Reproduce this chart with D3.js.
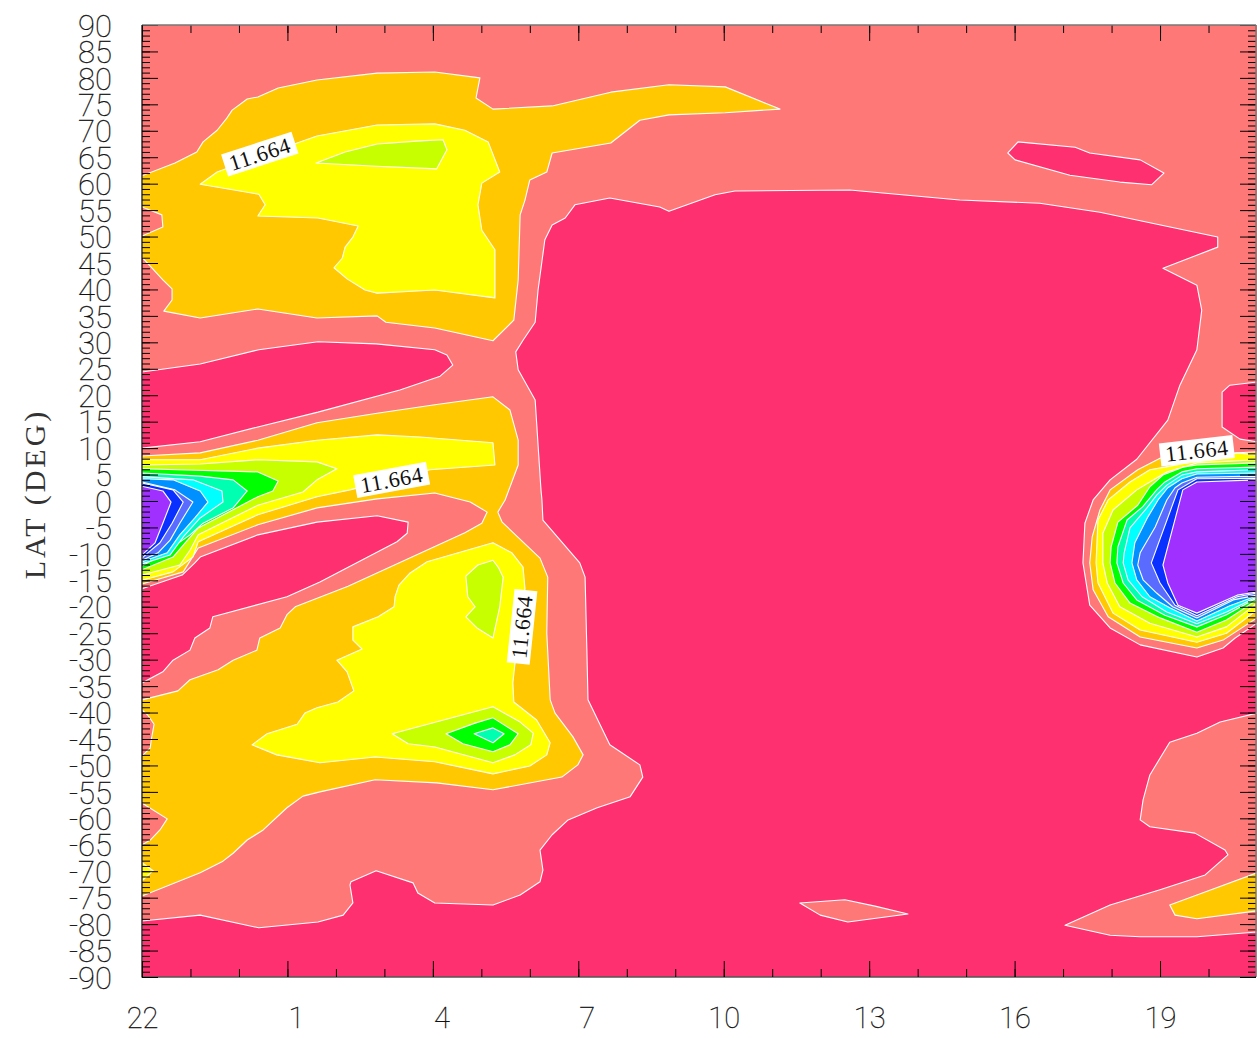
<!DOCTYPE html>
<html><head><meta charset="utf-8">
<script src="https://cdn.jsdelivr.net/npm/d3@7"></script>
<style>html,body{margin:0;padding:0;background:#fff}svg{display:block}</style>
</head><body><svg id="c" width="1257" height="1038"></svg>
<script>
// Outlines are [hours since 22h, latitude in degrees]
const pinkMain=[[8.93,56.0],[9.65,57.3],[10.68,55.6],[10.87,54.8],[11.82,57.9],[12.23,58.6],[14.6,58.8],[16.87,56.9],[18.52,56.3],[19.76,54.6],[22.19,49.9],[22.19,48.0],[21.06,44.0],[21.76,40.8],[21.86,36.1],[21.76,28.6],[21.41,21.9],[21.16,15.3],[20.52,7.9],[19.97,4.0],[19.62,0.2],[19.45,-4.2],[19.41,-11.7],[19.55,-19.7],[19.97,-24.0],[20.59,-27.2],[21.76,-29.5],[22.3,-27.8],[22.55,-25.9],[23,-23.1],[23,-40.1],[22.24,-41.8],[21.76,-43.9],[21.2,-45.6],[20.79,-51.8],[20.65,-56.5],[20.59,-60.3],[20.79,-61.6],[21.72,-62.8],[22.34,-66.0],[22.4,-66.9],[21.93,-70.7],[21.0,-73.5],[19.97,-76.4],[19.04,-80.2],[19.97,-82.1],[20.59,-82.4],[21.76,-82.4],[23,-81.5],[23,-90],[0,-90],[0,-79.4],[1.2,-78.3],[2.41,-80.7],[3.63,-79.6],[4.15,-78.3],[4.35,-76.0],[4.29,-72.6],[4.31,-72.0],[4.83,-69.9],[5.59,-72.2],[5.69,-74.1],[6.04,-76.0],[7.24,-76.4],[7.8,-74.5],[8.21,-72.0],[8.27,-69.8],[8.21,-66.0],[8.46,-63.1],[8.79,-60.3],[9.39,-58.0],[10.07,-55.9],[10.33,-52.2],[10.27,-49.9],[9.65,-46.1],[9.2,-37.6],[9.18,-29.5],[9.14,-14.4],[9.03,-11.7],[8.27,-3.6],[8.25,0.2],[8.23,2.1],[8.11,19.1],[7.76,24.8],[7.71,28.2],[7.86,30.4],[8.11,33.8],[8.17,39.9],[8.31,49.4],[8.46,52.2],[8.73,53.5]];
const pinkIsland=[[17.86,65.8],[18.07,67.9],[19.25,66.9],[19.55,65.8],[20.59,64.5],[21.08,62.0],[20.83,59.8],[20.17,60.3],[19.14,61.6],[18.01,64.5]];
const pinkRight=[[22.28,20.6],[22.44,21.9],[23,22.5],[23,11.2],[22.65,11.7],[22.28,14.0],[22.28,17.2]];
const pinkNorthBand=[[0,24.4],[1.2,25.9],[2.41,28.6],[3.63,30.1],[4.83,29.7],[6.04,28.6],[6.29,27.6],[6.41,25.7],[6.15,23.6],[5.32,21.0],[3.63,16.8],[2.39,14.0],[1.2,11.2],[0,10.0]];
const pinkSouthBand=[[0,-16.6],[0.83,-14.0],[1.09,-11.7],[1.2,-10.6],[2.39,-6.4],[3.61,-4.0],[4.85,-2.8],[5.49,-4.0],[5.47,-6.1],[5.26,-7.7],[3.67,-15.3],[2.99,-18.1],[1.46,-21.9],[1.4,-24.0],[1.09,-25.9],[0.99,-28.2],[0.64,-30.1],[0.43,-32.3],[0,-34.4]];
const salmonIsland=[[13.57,-76.0],[14.5,-75.4],[15.12,-76.6],[15.8,-78.1],[14.56,-79.6],[13.99,-78.3]];

const orangeNorth=[[0,61.5],[0.68,63.9],[1.13,66.0],[1.26,67.9],[1.55,70.1],[1.75,72.4],[1.86,73.9],[2.17,76.0],[2.39,76.4],[2.81,78.1],[3.61,79.6],[4.85,80.9],[6.04,81.1],[6.97,80.0],[6.89,76.2],[7.24,74.1],[8.46,74.7],[9.67,77.3],[10.87,78.7],[12.03,78.3],[13.16,74.1],[12.03,73.4],[10.87,73.0],[10.27,72.0],[9.67,67.7],[8.46,65.8],[8.35,62.2],[8.0,60.7],[7.9,56.9],[7.8,54.1],[7.76,41.8],[7.67,34.2],[7.24,30.3],[6.04,32.7],[5.03,33.8],[4.85,35.0],[3.61,34.6],[2.39,36.3],[1.2,34.6],[0.45,35.9],[0.62,38.0],[0.62,40.1],[0.43,41.8],[0,46.1],[0,50.1],[0.43,51.8],[0.41,54.1],[0,55.6]];
const orangeSouth=[[0,8.5],[1.2,9.1],[2.39,11.5],[3.61,14.8],[4.85,16.6],[6.04,18.2],[7.24,19.7],[7.59,17.2],[7.76,11.5],[7.76,6.8],[7.49,0.2],[7.34,-2.1],[7.43,-4.0],[8.21,-10.8],[8.37,-14.4],[8.35,-25.0],[8.42,-37.6],[8.52,-40.1],[8.89,-44.6],[9.1,-48.0],[8.99,-49.9],[8.66,-52.2],[7.24,-54.6],[6.08,-53.3],[4.81,-52.7],[3.67,-55.0],[3.32,-55.8],[2.99,-58.0],[2.5,-62.2],[2.17,-64.1],[1.88,-66.6],[1.67,-68.1],[1.2,-70.3],[0,-74.7],[0,-65.0],[0.17,-64.1],[0.37,-62.2],[0.52,-60.1],[0,-57.1],[0,-48.2],[0.17,-46.7],[0.19,-45.2],[0.25,-42.2],[0.12,-40.5],[0,-39.5],[0,-37.6],[0.74,-35.9],[0.99,-33.8],[1.57,-31.9],[1.88,-30.1],[2.37,-28.2],[2.43,-25.9],[2.85,-24.0],[2.99,-21.5],[3.16,-20.0],[4.25,-16.1],[6.66,-6.0],[7.01,-4.2],[7.12,-2.1],[6.77,-0.2],[6.04,1.5],[4.85,0.4],[3.61,-1.3],[2.39,-4.5],[1.16,-8.9],[0.85,-13.4],[0,-15.7]];
const orangeBlob=[[23,9.3],[21.76,8.7],[21.0,8.1],[20.54,5.9],[19.97,2.1],[19.76,-1.7],[19.6,-6.8],[19.55,-11.7],[19.62,-16.8],[19.93,-21.9],[20.59,-25.7],[21.76,-27.8],[22.3,-26.3],[23,-22.1]];
const orangeCorner=[[21.2,-76.4],[21.31,-78.3],[21.76,-79.0],[23,-77.5],[23,-70.3],[21.76,-74.5]];

const yellowNorth=[[1.2,59.9],[1.55,62.2],[3.2,67.7],[3.61,69.0],[4.85,71.1],[6.04,71.3],[6.66,70.1],[7.14,67.9],[7.38,62.2],[7.01,60.1],[6.93,56.0],[7.01,51.2],[7.28,47.5],[7.28,38.4],[6.04,39.9],[4.85,39.3],[4.6,39.9],[4.23,42.0],[3.96,44.1],[4.13,45.9],[4.19,48.0],[4.35,49.9],[4.46,52.0],[3.63,53.5],[2.39,53.9],[2.54,56.0],[2.41,58.0]];
const yellowEquator=[[0,7.8],[1.2,7.8],[2.39,10.0],[3.61,11.5],[4.85,12.5],[5.73,12.1],[7.24,11.0],[7.28,6.8],[5.94,5.9],[4.29,2.1],[3.61,0.8],[2.39,-2.6],[1.16,-7.7],[1.05,-10.6],[0.64,-13.4],[0,-15.0]];
const yellowSouth=[[7.24,-7.9],[7.63,-9.8],[7.86,-12.5],[7.9,-16.6],[7.69,-31.0],[7.65,-34.4],[7.67,-38.0],[8.14,-41.4],[8.42,-45.7],[8.35,-48.0],[8.0,-50.1],[7.24,-51.6],[6.04,-49.3],[4.81,-48.4],[3.67,-49.5],[2.78,-48.0],[2.27,-46.1],[2.58,-44.0],[3.2,-42.2],[3.36,-40.1],[3.61,-39.1],[4.04,-38.0],[4.37,-35.9],[4.23,-32.3],[4.02,-30.1],[4.54,-28.0],[4.35,-26.3],[4.35,-23.8],[4.87,-21.9],[5.2,-20.0],[5.22,-18.1],[5.3,-15.9],[5.53,-13.6],[5.88,-11.5]];
const yellowEdge=[[0,-68.4],[0.23,-69.9],[0,-71.8]];
const yellowBlob=[[23,8.7],[22.59,9.1],[21.1,6.4],[20.79,5.9],[20.38,3.6],[19.93,0.2],[19.72,-3.6],[19.68,-11.7],[19.72,-15.5],[20.03,-21.2],[20.59,-24.4],[21.76,-26.7],[22.37,-25.0],[23,-20.6]];

const limeNorth=[[3.59,63.9],[4.19,66.0],[4.85,67.5],[5.73,68.1],[6.21,68.3],[6.29,66.4],[6.08,62.8],[4.83,63.3]];
const limeEquator=[[0,6.8],[1.2,7.0],[2.39,7.8],[3.61,7.4],[4.02,6.1],[3.61,4.0],[3.32,1.7],[2.39,-0.8],[1.16,-6.4],[0.99,-9.3],[0.78,-12.1],[0,-14.0]];
const limeSouthA=[[7.24,-11.2],[6.93,-12.1],[6.68,-14.2],[6.72,-18.1],[6.87,-20.0],[6.68,-21.9],[6.91,-24.0],[7.24,-25.9],[7.38,-20.0],[7.45,-14.4],[7.36,-12.7]];
const limeSouthB=[[5.16,-44.0],[7.24,-38.9],[7.8,-41.8],[8.07,-43.9],[8.02,-46.1],[7.69,-48.0],[7.24,-49.5],[6.04,-46.5],[5.49,-45.9]];
const limeBlob=[[23,7.8],[21.76,7.2],[21.14,5.5],[20.79,3.6],[20.52,2.1],[20.03,-1.7],[19.82,-6.1],[19.82,-11.7],[19.91,-15.5],[20.17,-20.0],[20.79,-23.1],[21.76,-25.7],[22.37,-23.8],[23,-19.3]];

const greenEquator=[[0,6.1],[2.39,5.5],[2.81,3.8],[2.7,1.9],[2.39,0.8],[1.16,-5.1],[0.89,-7.9],[0.64,-10.6],[0,-13.0]];
const greenSouth=[[6.27,-44.0],[6.87,-42.0],[7.24,-41.0],[7.76,-44.0],[7.59,-46.1],[7.24,-47.4],[6.62,-45.9]];
const greenBlob=[[23,7.2],[21.76,6.8],[21.47,6.4],[21.06,4.9],[20.79,2.7],[20.54,-0.8],[20.13,-4.0],[19.99,-8.7],[19.97,-11.7],[20.07,-15.5],[20.38,-19.3],[21.0,-22.1],[21.76,-24.8],[22.37,-22.5],[23,-18.7]];

const springEquator=[[0,5.3],[1.2,4.7],[1.88,4.0],[2.17,1.9],[1.88,-1.3],[1.26,-4.2],[0.99,-6.4],[0.47,-9.8],[0,-12.3]];
const springSouth=[[6.85,-44.0],[7.24,-42.9],[7.47,-44.0],[7.24,-45.7]];
const springBlob=[[23,6.4],[21.76,6.1],[21.45,5.5],[21.1,3.6],[20.93,2.1],[20.64,-1.1],[20.32,-3.6],[20.13,-8.7],[20.11,-11.7],[20.24,-15.5],[20.52,-18.7],[21.1,-21.6],[21.76,-23.8],[22.37,-21.5],[23,-18.3]];

const cyanEquator=[[0,4.6],[1.05,4.0],[1.65,1.9],[1.67,-0.2],[1.2,-3.2],[0.85,-6.8],[0.58,-10.2],[0,-11.9]];
const cyanBlob=[[23,5.9],[21.76,5.5],[21.45,4.9],[21.14,3.0],[20.93,1.1],[20.73,-1.3],[20.38,-5.1],[20.26,-9.8],[20.24,-11.7],[20.34,-14.9],[20.63,-18.1],[21.14,-21.0],[21.76,-23.2],[22.37,-21.0],[23,-18.1]];

const azureEquator=[[0,4.2],[0.64,4.0],[1.2,1.9],[1.36,-0.2],[1.09,-3.2],[0.78,-6.4],[0.52,-9.8],[0,-11.5]];
const azureBlob=[[23,5.3],[21.76,5.1],[21.45,4.2],[21.16,2.5],[20.96,0.2],[20.75,-3.0],[20.48,-7.9],[20.42,-11.7],[20.52,-14.9],[20.79,-18.1],[21.2,-20.2],[21.76,-22.7],[22.44,-19.8],[23,-17.9]];

const periEquator=[[0,3.6],[0.68,2.1],[1.05,-0.2],[0.78,-4.2],[0.58,-7.4],[0.33,-9.8],[0,-11.2]];
const periBlob=[[23,4.7],[21.76,4.5],[21.45,3.4],[21.31,2.5],[21.14,0.2],[20.9,-4.9],[20.59,-9.8],[20.54,-12.1],[20.65,-14.9],[20.93,-17.4],[21.26,-20.0],[21.76,-22.1],[22.51,-18.7],[23,-17.8]];

const blueEquator=[[0,3.4],[0.64,2.1],[0.85,-0.2],[0.62,-4.2],[0.37,-7.9],[0.12,-9.8],[0,-10.8]];
const blueBlob=[[23,4.3],[21.76,4.2],[21.37,2.1],[20.82,-11.7],[21.0,-15.5],[21.31,-19.7],[21.76,-21.7],[22.59,-18.1],[23,-17.4]];

const purpleEquator=[[0,2.8],[0.43,1.9],[0.6,-0.2],[0.43,-4.2],[0.27,-7.9],[0,-10.2]];
const purpleBlob=[[23,4.0],[21.76,3.6],[21.47,2.1],[21.06,-12.1],[21.16,-15.5],[21.37,-19.7],[21.76,-21.2],[22.59,-17.8],[23,-17.2]];

const levelColors=["#ff3070","#ff7878","#ffc800","#ffff00","#c8ff00","#00ff00","#00ffb0","#00ffff","#0090ff","#5a6cff","#0a30ff","#a030ff"];
const levelOutlines=[
 [pinkMain,pinkIsland,pinkRight,pinkNorthBand,pinkSouthBand],
 [salmonIsland],
 [orangeNorth,orangeSouth,orangeBlob,orangeCorner],
 [yellowNorth,yellowEquator,yellowSouth,yellowEdge,yellowBlob],
 [limeNorth,limeEquator,limeSouthA,limeSouthB,limeBlob],
 [greenEquator,greenSouth,greenBlob],
 [springEquator,springSouth,springBlob],
 [cyanEquator,cyanBlob],
 [azureEquator,azureBlob],
 [periEquator,periBlob],
 [blueEquator,blueBlob],
 [purpleEquator,purpleBlob]
];
const contourValue=["11.664","11.664","11.664","11.664"];
const contourHour=[2.43,5.15,7.84,21.76];
const contourLat=[65.6,4.0,-23.8,9.5];
const contourAngle=[-18,-10.5,-84,-6.6];

const xTickHours=[0,3,6,9,12,15,18,21];
const xTickLabels=["22","1","4","7","10","13","16","19"];
const xMinorHours=d3.range(0,24);
const yTickLats=d3.range(-90,91,5);
const yMinorLats=d3.range(-90,91,1);
const yTitle="LAT (DEG)";

const x=d3.scaleLinear().domain([0,23]).range([142,1257]);
const y=d3.scaleLinear().domain([90,-90]).range([25,977]);
const svg=d3.select("#c");
const numFont="Roboto, sans-serif";

svg.append("clipPath").attr("id","plot").append("rect")
  .attr("x",x(0)).attr("y",y(90)).attr("width",x(23)-x(0)).attr("height",y(-90)-y(90));
const g=svg.append("g").attr("clip-path","url(#plot)");
g.append("rect").attr("x",x(0)).attr("y",y(90)).attr("width",x(23)-x(0)).attr("height",y(-90)-y(90)).attr("fill",levelColors[1]);
const line=d3.line().x(d=>x(d[0])).y(d=>y(d[1]));
levelOutlines.forEach((polys,i)=>{
  g.append("g").selectAll("path").data(polys).join("path")
   .attr("d",d=>line(d)+"Z").attr("fill",levelColors[i])
   .attr("stroke","#fff").attr("stroke-width",1.1).attr("stroke-linejoin","round");
});

// contour labels
const lab=g.append("g").selectAll("g").data(contourValue).join("g")
 .attr("transform",(d,i)=>`translate(${x(contourHour[i])},${y(contourLat[i])}) rotate(${contourAngle[i]})`);
lab.append("rect").attr("x",-37).attr("y",-11.5).attr("width",74).attr("height",23).attr("fill","#fff");
lab.append("text").text(d=>d).attr("text-anchor","middle").attr("y",7.5)
 .attr("font-family","'Liberation Serif',serif").attr("font-size",22).attr("letter-spacing",0.6).attr("fill","#111");

// tick axes, drawn inward from the frame
function ticks(axis,vals,len,tx,ty){
  const a=svg.append("g").attr("transform",`translate(${tx},${ty})`)
    .call(axis.tickValues(vals).tickSize(len).tickFormat(""));
  a.selectAll(".tick line").attr("stroke","#000").attr("stroke-width",1);
  a.select(".domain").remove();
  a.selectAll("text").remove();
  return a;
}
const xMajor=d3.range(0,24,3);
ticks(d3.axisBottom(x),xMinorHours,8,0,y(90));
ticks(d3.axisBottom(x),xMajor,16,0,y(90));
ticks(d3.axisTop(x),xMinorHours,8,0,y(-90));
ticks(d3.axisTop(x),xMajor,16,0,y(-90));
ticks(d3.axisRight(y),yMinorLats,8,x(0),0);
ticks(d3.axisRight(y),yTickLats,16,x(0),0);
ticks(d3.axisLeft(y),yMinorLats,8,1256,0);
ticks(d3.axisLeft(y),yTickLats,16,1256,0);

// frame
const frame=svg.append("g").attr("fill","none");
frame.append("path").attr("d",`M${x(0)},${y(90)}H1256`).attr("stroke","#777").attr("stroke-width",1.4);
frame.append("path").attr("d",`M1256,${y(90)}V${y(-90)}`).attr("stroke","#777").attr("stroke-width",1.4);
frame.append("path").attr("d",`M${x(0)},${y(90)}V${y(-90)}H1256`).attr("stroke","#000").attr("stroke-width",1.2);

// numeric labels
const yAxis=svg.append("g").attr("transform",`translate(112,0)`)
  .call(d3.axisLeft(y).tickValues(yTickLats).tickSize(0).tickPadding(0).tickFormat(d=>String(d)));
yAxis.select(".domain").remove();
yAxis.selectAll("text").attr("font-family",numFont).attr("font-weight",100).attr("font-size",31)
  .attr("fill","#111").attr("stroke","#111").attr("stroke-width",0.3).attr("text-anchor","end").attr("dy","0.36em");

const xAxis=svg.append("g").attr("transform",`translate(0,1018)`)
  .call(d3.axisBottom(x).tickValues(xTickHours).tickSize(0).tickPadding(0).tickFormat((d,i)=>xTickLabels[i]));
xAxis.select(".domain").remove();
xAxis.selectAll("text").attr("font-family",numFont).attr("font-weight",100).attr("font-size",29)
  .attr("fill","#111").attr("stroke","#111").attr("stroke-width",0.3).attr("text-anchor","middle").attr("y",0).attr("dy","0.36em")
  .attr("dx",(d,i)=>xTickLabels[i].length===1?8.5:0);

svg.append("text").text(yTitle)
  .attr("transform",`translate(45,${y(0)-7}) rotate(-90)`).attr("text-anchor","middle")
  .attr("font-family","'Liberation Serif',serif").attr("font-size",30).attr("letter-spacing",3)
  .attr("fill","#333");
</script></body></html>
